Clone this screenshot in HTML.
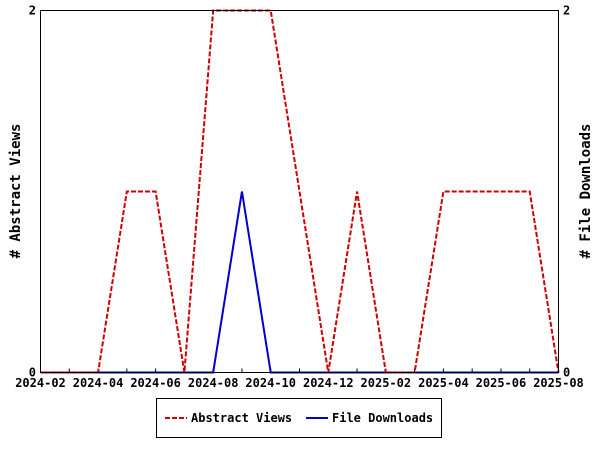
<!DOCTYPE html>
<html><head><meta charset="utf-8"><style>
html,body{margin:0;padding:0;background:#fff;}
svg text{font-family:"DejaVu Sans Mono","Liberation Mono",monospace;font-size:12px;font-weight:bold;fill:#000;}
</style></head><body>
<svg id="chart" width="600" height="450" xmlns="http://www.w3.org/2000/svg">
<rect x="0" y="0" width="600" height="450" fill="#fff"/>
<g id="marks"></g>
<rect x="40.5" y="10.5" width="518" height="362" fill="none" stroke="#000"/>
<text x="20" y="191" transform="rotate(-90 20 191)" text-anchor="middle" style="font-size:14px"># Abstract Views</text>
<text x="590" y="191" transform="rotate(-90 590 191)" text-anchor="middle" style="font-size:14px"># File Downloads</text>
<g>
<rect x="156.5" y="398.5" width="285" height="39" fill="#fff" stroke="#000"/>
<line x1="165" y1="418" x2="187" y2="418" stroke="#cc0000" stroke-width="2" stroke-dasharray="5,2"/>
<text x="191" y="422">Abstract Views</text>
<line x1="306" y1="418" x2="328" y2="418" stroke="#0000cc" stroke-width="2"/>
<text x="332" y="422">File Downloads</text>
</g>
</svg>
<script>
const months = ["2024-02","2024-03","2024-04","2024-05","2024-06","2024-07","2024-08","2024-09","2024-10","2024-11","2024-12","2025-01","2025-02","2025-03","2025-04","2025-05","2025-06","2025-07","2025-08"];
const abstractViews = [0,0,0,1,1,0,2,2,2,1,0,1,0,0,1,1,1,1,0];
const fileDownloads = [0,0,0,0,0,0,0,1,0,0,0,0,0,0,0,0,0,0,0];
const yTicks = [0,2];
const NS="http://www.w3.org/2000/svg";
const x0=40.5,x1=558.5,yTop=10.5,yBot=372.5,yMax=2;
function xs(i){return x0+(x1-x0)*i/(months.length-1);}
function ys(v){return yBot-(yBot-yTop)*v/yMax;}
const g=document.getElementById('marks');
function mk(tag,attrs){const e=document.createElementNS(NS,tag);for(const k in attrs)e.setAttribute(k,attrs[k]);g.appendChild(e);return e;}
months.forEach((m,i)=>{
  const t=mk('line',{x1:xs(i),x2:xs(i),y1:yBot,y2:yBot-4,stroke:'#000'});
  
  
  if(i%2===0){
    const l=mk('text',{x:xs(i),y:387,'text-anchor':'middle'});
    l.textContent=m;
    
    
  }
});
yTicks.forEach(v=>{
  const a=mk('text',{x:36,y:ys(v)+4,'text-anchor':'end'});a.textContent=v;
  
  
  const b=mk('text',{x:563,y:ys(v)+4,'text-anchor':'start'});b.textContent=v;
  
  
});
const p2=mk('polyline',{points:fileDownloads.map((v,i)=>xs(i)+','+ys(v)).join(' '),fill:'none',stroke:'#0000cc','stroke-width':2});


const p1=mk('polyline',{points:abstractViews.map((v,i)=>xs(i)+','+ys(v)).join(' '),fill:'none',stroke:'#cc0000','stroke-width':2,'stroke-dasharray':'5,2'});


</script>
</body></html>
